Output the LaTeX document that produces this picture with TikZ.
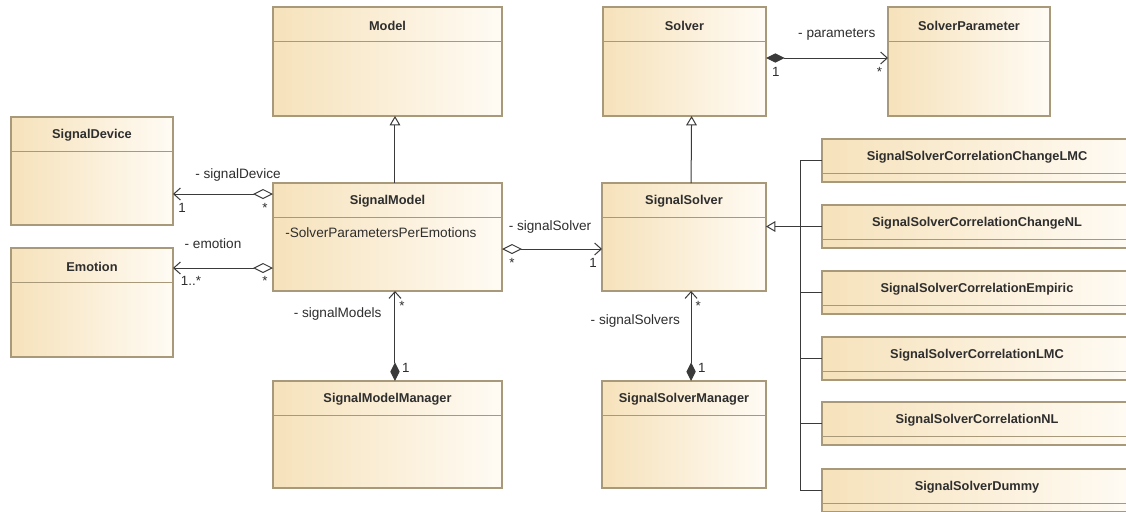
\documentclass[tikz,border=0pt]{standalone}
\usepackage{fontspec}
\setmainfont{Liberation Sans}
\usetikzlibrary{arrows.meta,positioning}

\definecolor{boxfill}{HTML}{F6E2BB}
\definecolor{boxfade}{HTML}{FFFBF4}
\definecolor{boxline}{HTML}{A8997A}
\definecolor{wire}{HTML}{3A3A3A}
\definecolor{ink}{HTML}{2E2E2E}

\tikzset{
  classbox/.style={draw=boxline, line width=0.8pt, left color=boxfill, right color=boxfade,
    anchor=north west, inner sep=0pt, outer sep=0pt},
  classname/.style={font=\fontsize{9.6}{11}\selectfont\bfseries, text=ink},
  attr/.style={font=\fontsize{10.2}{12}\selectfont, text=ink, anchor=west, inner sep=0pt},
  role/.style={font=\fontsize{10.2}{12}\selectfont, text=ink, inner sep=0pt},
  mult/.style={font=\fontsize{10}{12}\selectfont, text=ink, inner sep=0pt},
  wire/.style={draw=wire, line width=0.75pt},
  gen/.style={wire, -{Triangle[open, length=7pt, width=8pt, fill=white]}},
  aggr/.style={wire, {Diamond[open, length=15pt, width=7.5pt, fill=white]}-{Straight Barb[length=5pt, width=9pt]}},
  comp/.style={wire, {Diamond[length=14pt, width=7pt]}-{Straight Barb[length=5pt, width=9pt]}},
}

% class box: name, x, y (top left, px), width, height, title
\newcommand{\umlclass}[6]{%
  \node[classbox, minimum width=#4*0.75pt, minimum height=#5*0.75pt] (#1) at (#2,#3) {};
  \node[classname] (#1-title) at ([yshift=-14pt]#1.north) {#6};
  \draw[boxline, line width=0.8pt] ([yshift=-26pt]#1.north west) -- ([yshift=-26pt]#1.north east);
}

\begin{document}
\begin{tikzpicture}[x=0.75pt, y=-0.75pt]
  \useasboundingbox[fill=white] (0,0) rectangle (1126,511);

  \umlclass{Model}{273}{7}{229}{109}{Model}
  \umlclass{Solver}{603}{7}{163}{109}{Solver}
  \umlclass{SolverParameter}{888}{7}{162}{109}{SolverParameter}
  \umlclass{SignalDevice}{11}{117}{162}{108}{SignalDevice}
  \umlclass{Emotion}{11}{248}{162}{109}{Emotion}
  \umlclass{SignalModel}{273}{183}{229}{108}{SignalModel}
  \umlclass{SignalSolver}{602}{183}{164}{108}{SignalSolver}
  \umlclass{SignalModelManager}{273}{381}{229}{107}{SignalModelManager}
  \umlclass{SignalSolverManager}{602}{381}{164}{107}{SignalSolverManager}
  \node[attr] (SignalModel-attr) at ([xshift=9pt, yshift=-37pt]SignalModel.north west) {-SolverParametersPerEmotions};

  % solver variants
  \umlclass{ChangeLMC}{822}{139}{310}{43}{SignalSolverCorrelationChangeLMC}
  \umlclass{ChangeNL}{822}{205}{310}{43}{SignalSolverCorrelationChangeNL}
  \umlclass{Empiric}{822}{271}{310}{43}{SignalSolverCorrelationEmpiric}
  \umlclass{CorrLMC}{822}{337}{310}{43}{SignalSolverCorrelationLMC}
  \umlclass{CorrNL}{822}{402}{310}{43}{SignalSolverCorrelationNL}
  \umlclass{Dummy}{822}{469}{310}{43}{SignalSolverDummy}

  % inheritance
  \draw[gen] ([xshift=5.6pt]SignalModel.north) -- ([xshift=5.6pt]Model.south);
  \draw[gen] ([xshift=5.3pt]SignalSolver.north) -- ([xshift=5.3pt]Solver.south);
  \draw[gen] (ChangeNL.west) -- (SignalSolver.east |- ChangeNL.west);
  \draw[wire] (ChangeLMC.west) -- ++(-16.5pt,0) |- (Dummy.west);
  \foreach \n in {Empiric, CorrLMC, CorrNL}
    \draw[wire] (\n.west) -- ++(-16.5pt,0);

  % associations
  \draw[aggr] (SignalModel.west |- 0,194) --
    node[role, anchor=base, pos=0.35, yshift=12pt] {- signalDevice}
    node[mult, anchor=base, pos=0.08, yshift=-13.5pt] {*}
    node[mult, anchor=base, pos=0.91, yshift=-13.5pt] {1} (SignalDevice.east |- 0,194);
  \draw[aggr] (SignalModel.west |- 0,268) --
    node[role, anchor=base, pos=0.6, yshift=15pt] {- emotion}
    node[mult, anchor=base, pos=0.08, yshift=-12.75pt] {*}
    node[mult, anchor=base, pos=0.82, yshift=-12.75pt] {1..*} (Emotion.east |- 0,268);
  \draw[aggr] (SignalModel.east |- 0,249) --
    node[role, anchor=base, pos=0.48, yshift=14.25pt] {- signalSolver}
    node[mult, anchor=base, pos=0.1, yshift=-13.5pt] {*}
    node[mult, anchor=base, pos=0.91, yshift=-13.5pt] {1} (SignalSolver.west |- 0,249);
  \draw[comp] (Solver.east |- 0,58) --
    node[role, anchor=base, pos=0.58, yshift=15.75pt] {- parameters}
    node[mult, anchor=base, pos=0.08, yshift=-13.5pt] {1}
    node[mult, anchor=base, pos=0.93, yshift=-13.5pt] {*} (SolverParameter.west |- 0,58);
  \draw[comp] ([xshift=5.6pt]SignalModelManager.north) --
    node[role, anchor=base east, pos=0.71, xshift=-9.75pt] {- signalModels}
    node[mult, anchor=base west, pos=0.78, xshift=3pt] {*}
    node[mult, anchor=base west, pos=0.1, xshift=5pt] {1} ([xshift=5.6pt]SignalModel.south);
  \draw[comp] ([xshift=5.3pt]SignalSolverManager.north) --
    node[role, anchor=base east, pos=0.63, xshift=-8pt] {- signalSolvers}
    node[mult, anchor=base west, pos=0.78, xshift=3pt] {*}
    node[mult, anchor=base west, pos=0.1, xshift=5pt] {1} ([xshift=5.3pt]SignalSolver.south);
\end{tikzpicture}
\end{document}
